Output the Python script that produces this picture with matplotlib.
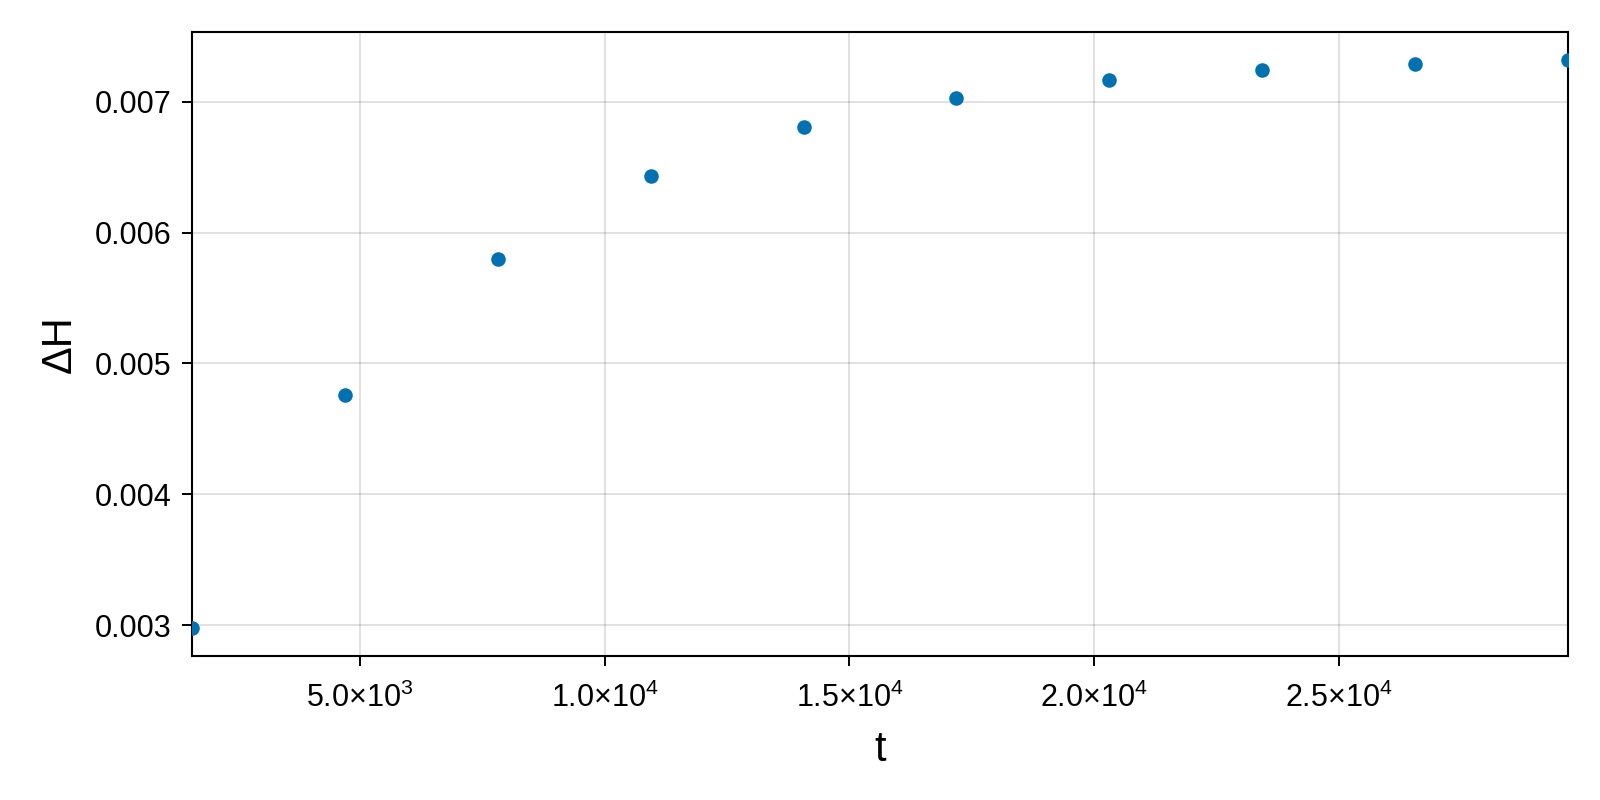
import matplotlib
matplotlib.use("Agg")
import matplotlib.pyplot as plt
from matplotlib.ticker import FixedLocator, FixedFormatter

plt.rcParams['font.family'] = ['Liberation Sans', 'DejaVu Sans']
plt.rcParams['mathtext.fontset'] = 'custom'
plt.rcParams['mathtext.rm'] = 'Liberation Sans'
plt.rcParams['mathtext.it'] = 'Liberation Sans'

# data
t = [1562.5, 4687.5, 7812.5, 10937.5, 14062.5, 17187.5, 20312.5, 23437.5, 26562.5, 29687.5]
dH = [0.00298, 0.004756, 0.005799, 0.006431, 0.006806, 0.00703, 0.007164, 0.007243, 0.007291, 0.007317]

xticks = [5000, 10000, 15000, 20000, 25000]
xticklabels = [r'$5.0{\times}10^{3}$', r'$1.0{\times}10^{4}$', r'$1.5{\times}10^{4}$',
               r'$2.0{\times}10^{4}$', r'$2.5{\times}10^{4}$']
yticks = [0.003, 0.004, 0.005, 0.006, 0.007]
yticklabels = ['0.003', '0.004', '0.005', '0.006', '0.007']

fig = plt.figure(figsize=(16, 8), dpi=100)
ax = fig.add_axes([0.12, 0.18, 0.86, 0.78])

ax.scatter(t, dH, s=110, color='#0072B2', zorder=3, linewidths=0)

ax.set_xlim(t[0], t[-1])
ax.margins(y=0.05)

ax.xaxis.set_major_locator(FixedLocator(xticks))
ax.xaxis.set_major_formatter(FixedFormatter(xticklabels))
ax.yaxis.set_major_locator(FixedLocator(yticks))
ax.yaxis.set_major_formatter(FixedFormatter(yticklabels))

ax.grid(True, color='black', alpha=0.12, linewidth=1.4)
ax.set_axisbelow(True)

for s in ax.spines.values():
	s.set_linewidth(1.5)
ax.tick_params(axis='both', length=7.5, width=1.4, labelsize=22)
ax.tick_params(axis='x', pad=12)
ax.tick_params(axis='y', pad=7)

ax.set_xlabel('t', fontsize=30, labelpad=11)
ax.set_ylabel('ΔH', fontsize=30, labelpad=11)

fig.savefig('out.png', dpi=100, facecolor='white')
